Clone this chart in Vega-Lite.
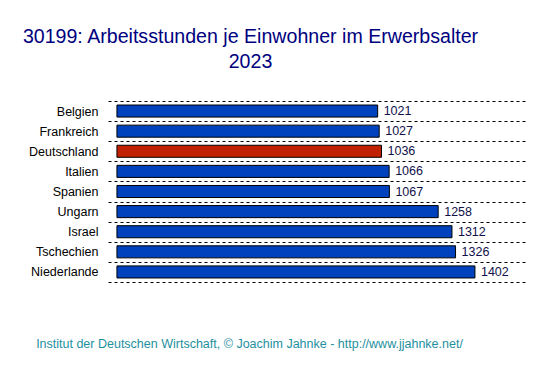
{
  "$schema": "https://vega.github.io/schema/vega-lite/v6.json",
  "width": 417,
  "height": 181,
  "autosize": "none",
  "padding": {"left": 108, "top": 101, "right": 28, "bottom": 94},
  "background": "white",
  "config": {"view": {"stroke": null}, "font": "Liberation Sans"},
  "title": {
    "text": ["30199: Arbeitsstunden je Einwohner im Erwerbsalter", "2023"],
    "fontSize": 19.6,
    "fontWeight": "normal",
    "color": "#000080",
    "anchor": "middle",
    "dx": -66,
    "offset": 22,
    "lineHeight": 25,
    "font": "Liberation Sans"
  },
  "data": {
    "values": [
      {"land": "Belgien", "wert": 1021, "de": "nein"},
      {"land": "Frankreich", "wert": 1027, "de": "nein"},
      {"land": "Deutschland", "wert": 1036, "de": "ja"},
      {"land": "Italien", "wert": 1066, "de": "nein"},
      {"land": "Spanien", "wert": 1067, "de": "nein"},
      {"land": "Ungarn", "wert": 1258, "de": "nein"},
      {"land": "Israel", "wert": 1312, "de": "nein"},
      {"land": "Tschechien", "wert": 1326, "de": "nein"},
      {"land": "Niederlande", "wert": 1402, "de": "nein"}
    ]
  },
  "encoding": {
    "y": {
      "field": "land",
      "type": "nominal",
      "sort": null,
      "scale": {"paddingInner": 0, "paddingOuter": 0},
      "axis": {
        "title": null,
        "ticks": false,
        "domain": false,
        "tickBand": "extent",
        "grid": true,
        "gridDash": [3, 3],
        "gridColor": "black",
        "gridWidth": 1,
        "gridOpacity": 1,
        "labelFontSize": 12.5,
        "labelColor": "black",
        "labelPadding": 10,
        "labelFont": "Liberation Sans"
      }
    },
    "x": {
      "field": "wert",
      "type": "quantitative",
      "scale": {"domain": [-35, 1598], "nice": false, "zero": false},
      "axis": {
        "title": "Institut der Deutschen Wirtschaft, © Joachim Jahnke - http://www.jjahnke.net/",
        "labels": false,
        "ticks": false,
        "domain": false,
        "grid": false,
        "titleColor": "#1E8FA0",
        "titleFontSize": 12.5,
        "titleFontWeight": "normal",
        "titleFont": "Liberation Sans",
        "titleX": 141,
        "titleY": 61,
        "titleAlign": "center",
        "titleBaseline": "middle"
      }
    }
  },
  "layer": [
    {
      "mark": {"type": "bar", "stroke": "black", "strokeWidth": 1, "height": {"band": 0.6}},
      "encoding": {
        "color": {
          "field": "de",
          "type": "nominal",
          "scale": {"domain": ["nein", "ja"], "range": ["#0041BE", "#C02100"]},
          "legend": null
        }
      }
    },
    {
      "mark": {"type": "text", "align": "left", "baseline": "middle", "dx": 6, "fontSize": 12.5, "color": "#10104A", "font": "Liberation Sans"},
      "encoding": {"text": {"field": "wert", "type": "quantitative"}}
    }
  ]
}
